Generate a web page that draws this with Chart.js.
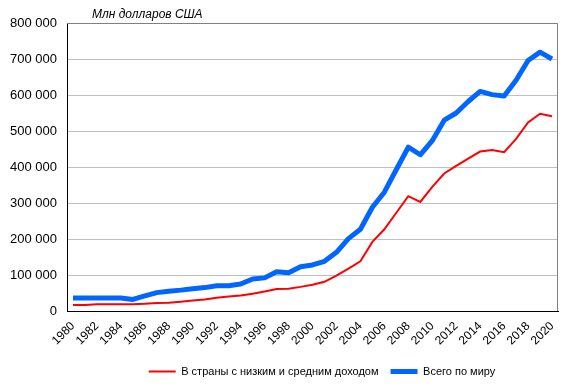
<!DOCTYPE html>
<html>
<head>
<meta charset="utf-8">
<script src="https://cdn.jsdelivr.net/npm/chart.js@4"></script>
<style>
  body { margin: 0; background: #fff; }
  #wrap { position: relative; width: 572px; height: 387px; }
  #title {
    position: absolute; left: 92px; top: 7px;
    font: italic 12px "Liberation Sans", Arial, sans-serif; color: #000;
  }
</style>
</head>
<body>
<div id="wrap">
  <canvas id="chart" width="572" height="387"></canvas>
  <div id="title">Млн долларов США</div>
</div>
<script>
// Years on the x axis
const years = ['1980', '1981', '1982', '1983', '1984', '1985', '1986', '1987', '1988', '1989',
    '1990', '1991', '1992', '1993', '1994', '1995', '1996', '1997', '1998', '1999',
    '2000', '2001', '2002', '2003', '2004', '2005', '2006', '2007', '2008', '2009',
    '2010', '2011', '2012', '2013', '2014', '2015', '2016', '2017', '2018', '2019', '2020'];

// Low and middle income countries
const lowMiddle = [17000, 17000, 19000, 19000, 19000, 19000, 20000, 22000, 23000, 26000,
    29000, 32000, 37000, 40000, 43000, 48000, 54000, 61000, 62000, 67000,
    73000, 81000, 98000, 118000, 138000, 192000, 227000, 273000, 319000, 303000,
    345000, 382000, 403000, 423000, 443000, 447000, 441000, 478000, 524000, 548000, 541000];

// World total
const world = [36000, 36000, 36000, 36000, 36000, 32000, 42000, 51000, 55000, 58000,
    62000, 65000, 70000, 70000, 75000, 89000, 92000, 109000, 106000, 123000,
    128000, 138000, 163000, 201000, 227000, 288000, 330000, 393000, 455000, 434000,
    473000, 530000, 550000, 582000, 610000, 601000, 597000, 641000, 696000, 719000, 700000];

const yTicks = [0, 100000, 200000, 300000, 400000, 500000, 600000, 700000, 800000];

function fmt(v) {
    return String(v).replace(/\B(?=(\d{3})+(?!\d))/g, ' ');
}

// grey top/right frame of the plot area
const frame = {
    id: 'frame',
    beforeDatasetsDraw(chart) {
        const a = chart.chartArea, ctx = chart.ctx;
        ctx.save();
        ctx.strokeStyle = '#808080';
        ctx.lineWidth = 1;
        ctx.beginPath();
        ctx.moveTo(a.left, a.top + 0.5);
        ctx.lineTo(a.right - 0.5, a.top + 0.5);
        ctx.lineTo(a.right - 0.5, a.bottom);
        ctx.stroke();
        ctx.restore();
    }
};

// legend sits a bit right of centre in the original
const legendShift = {
    id: 'legendShift',
    afterLayout(chart) {
        chart.legend.left += 43;
        chart.legend.right += 43;
    }
};

Chart.defaults.font.family = '"Liberation Sans", Arial, sans-serif';
Chart.defaults.color = '#000';

new Chart(document.getElementById('chart'), {
    type: 'line',
    data: {
        labels: years,
        datasets: [{
            label: 'В страны с низким и средним доходом',
            data: lowMiddle,
            borderColor: '#ff0000',
            backgroundColor: '#ff0000',
            borderWidth: 2,
            pointRadius: 0,
            tension: 0
        }, {
            label: 'Всего по миру',
            data: world,
            borderColor: '#0066ff',
            backgroundColor: '#0066ff',
            borderWidth: 5,
            borderJoinStyle: 'round',
            pointRadius: 0,
            tension: 0
        }]
    },
    options: {
        responsive: false,
        animation: false,
        layout: { padding: { left: 0, right: 14, top: 23, bottom: 0 } },
        plugins: {
            legend: {
                position: 'bottom',
                labels: {
                    usePointStyle: true,
                    pointStyle: 'line',
                    pointStyleWidth: 27,
                    padding: 12,
                    font: { size: 11 }
                }
            },
            tooltip: { enabled: false }
        },
        scales: {
            x: {
                offset: true,
                grid: { display: false, drawTicks: false },
                border: { color: '#000', width: 1 },
                ticks: {
                    autoSkip: false,
                    minRotation: 45,
                    maxRotation: 45,
                    padding: 8,
                    font: { size: 12 },
                    callback: (v, i) => i % 2 === 0 ? years[i] : ''
                },
                afterFit: s => { s.height = 43; }
            },
            y: {
                min: 0,
                max: 800000,
                afterBuildTicks: s => { s.ticks = yTicks.map(v => ({ value: v })); },
                grid: { color: '#c0c0c0', drawTicks: false },
                border: { color: '#000', width: 1 },
                ticks: {
                    padding: 10,
                    font: { size: 13 },
                    callback: v => fmt(v)
                },
                afterFit: s => { s.width = 67; }
            }
        }
    },
    plugins: [frame, legendShift]
});
</script>
</body>
</html>
